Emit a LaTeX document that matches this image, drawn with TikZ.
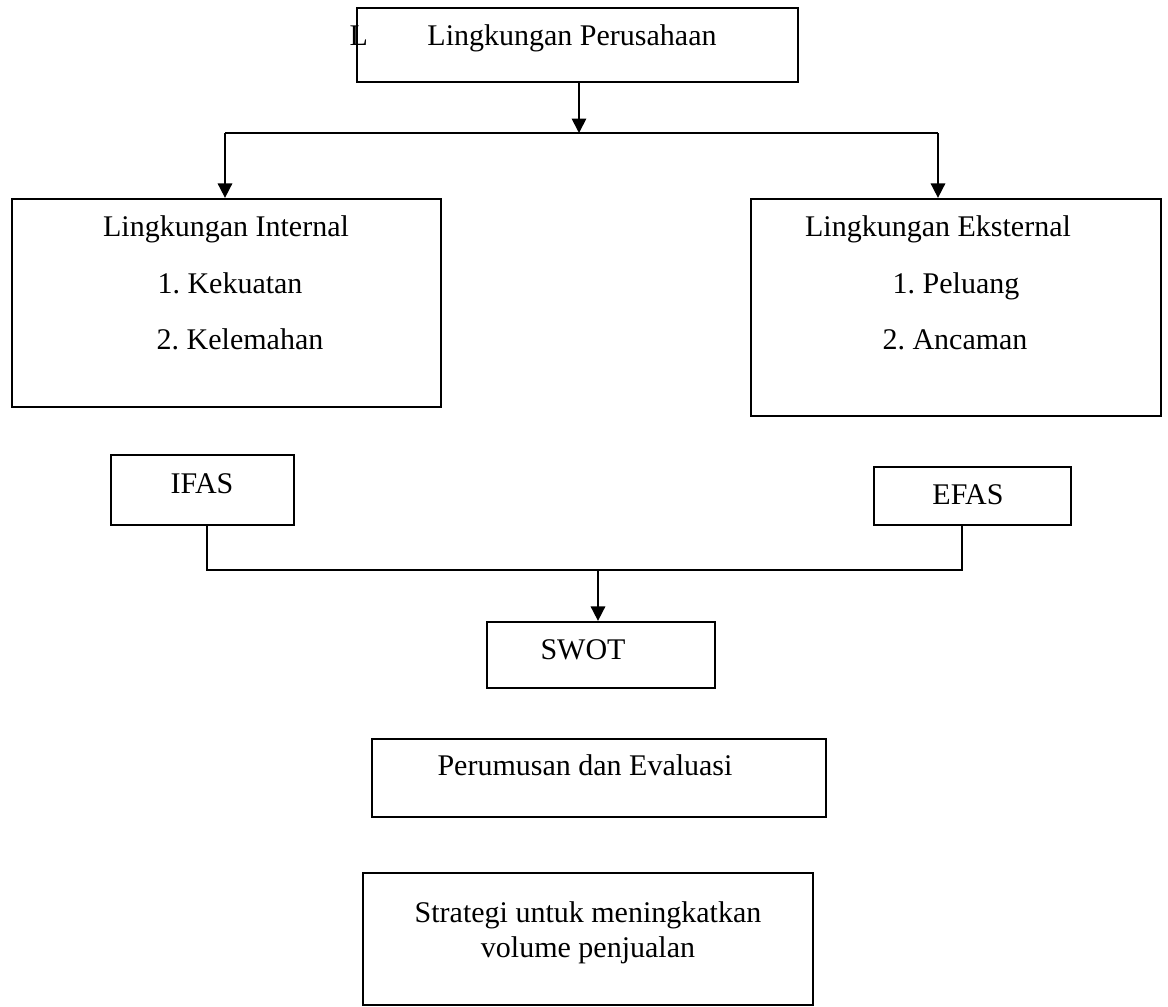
\documentclass[tikz,border=0pt]{standalone}
\usepackage{fontspec}
\setmainfont{Liberation Serif}
\usetikzlibrary{arrows.meta,positioning,fit}
\frenchspacing

\begin{document}
\begin{tikzpicture}[
  x=0.4pt,y=-0.4pt,
  box/.style={
    draw=black,
    line width=.9pt,
    inner sep=0pt
  },
  txt/.style={anchor=base,inner sep=0pt,font=\fontsize{12}{14}\selectfont},
  link/.style={line width=.7pt},
  arr/.style={line width=.7pt,-{Triangle[width=5.8pt,length=5.8pt]}}
]
\useasboundingbox (0,0) rectangle (1168,1007);

% boxes
\node[box,fit={(357,8) (798,82)}] (env) {};
\node[box,fit={(12,199) (441,407)}] (intbox) {};
\node[box,fit={(751,199) (1161,416)}] (extbox) {};
\node[box,fit={(111,455) (294,525)}] (ifas) {};
\node[box,fit={(874,467) (1071,525)}] (efas) {};
\node[box,fit={(487,622) (715,688)}] (swot) {};
\node[box,fit={(372,739) (826,817)}] (eval) {};
\node[box,fit={(363,873) (813,1005)}] (strat) {};

% texts
\node[txt,anchor=base west] (envL) at (349,45) {L};
\node[txt] (envT) at (572,45) {Lingkungan Perusahaan};
\node[txt] (intT) at (226,236) {Lingkungan Internal};
\node[txt] (int1) at (230,293) {1. Kekuatan};
\node[txt] (int2) at (240,349) {2. Kelemahan};
\node[txt] (extT) at (938,236) {Lingkungan Eksternal};
\node[txt] (ext1) at (956,293) {1. Peluang};
\node[txt] (ext2) at (955,349) {2. Ancaman};
\node[txt] (ifasT) at (202,493) {IFAS};
\node[txt] (efasT) at (968,504) {EFAS};
\node[txt] (swotT) at (583,659) {SWOT};
\node[txt] (evalT) at (585,775) {Perumusan dan Evaluasi};
\node[txt] (strat1) at (588,922) {Strategi untuk meningkatkan};
\node[txt] (strat2) at (588,957) {volume penjualan};

% connectors
\coordinate (split) at (579,133);
\coordinate (jl) at (225,133);
\coordinate (jr) at (938,133);
\draw[arr] (env.south -| split) -- (split);
\draw[link] (jl) -- (jr);
\draw[arr] (jl) -- (jl |- intbox.north);
\draw[arr] (jr) -- (jr |- extbox.north);

\coordinate (ml) at (207,570);
\coordinate (mr) at (962,570);
\coordinate (mm) at (598,570);
\draw[link] (ifas.south -| ml) -- (ml) -- (mr) -- (efas.south -| mr);
\draw[arr] (mm) -- (mm |- swot.north);
\end{tikzpicture}
\end{document}
